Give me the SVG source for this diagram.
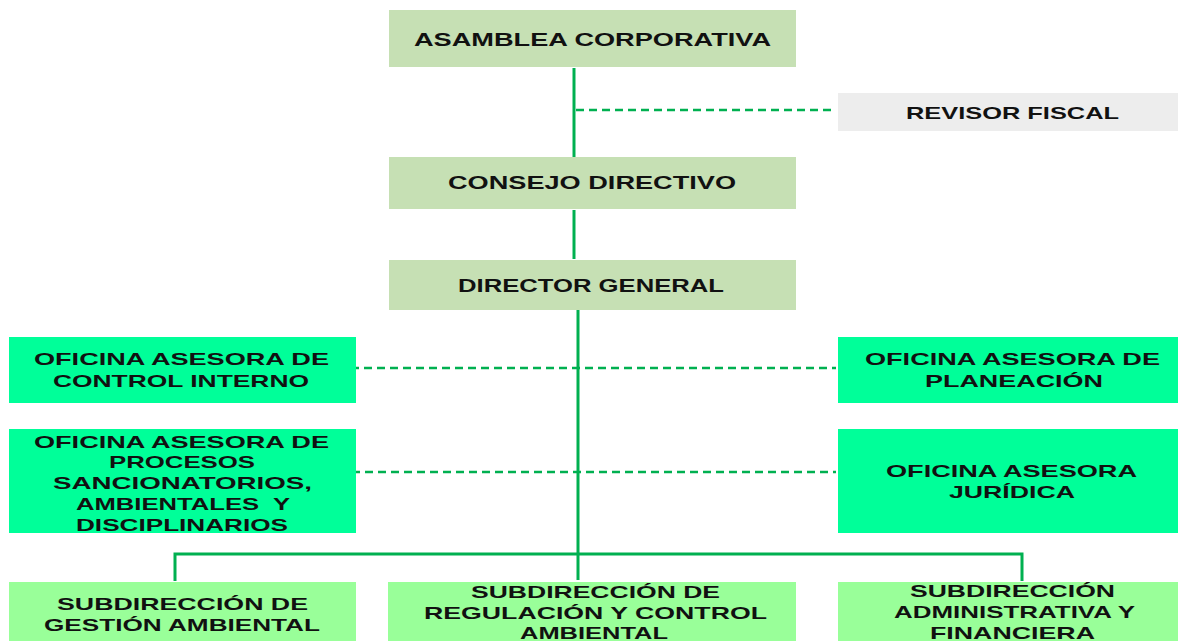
<svg xmlns="http://www.w3.org/2000/svg" width="1178" height="641" viewBox="0 0 1178 641">
<style>
.t{font-family:"Liberation Sans",Arial,sans-serif;font-weight:bold;fill:#111;}
.f18{font-size:18px;}
.f17{font-size:17px;}
.top{fill:#C6E0B4;}
.rev{fill:#EDEDED;}
.ofi{fill:#00FF99;}
.sub{fill:#99FF99;}
.solid{stroke:#00B050;stroke-width:3;fill:none;}
.dash{stroke:#00B050;stroke-width:2.5;stroke-dasharray:8 5;fill:none;}
</style>
<rect width="1178" height="641" fill="#FFFFFF"/>
<g id="connectors">
<line class="solid" x1="574" y1="68" x2="574" y2="157"/>
<line class="dash" x1="576" y1="110" x2="836" y2="110"/>
<line class="solid" x1="574" y1="210" x2="574" y2="259"/>
<line class="solid" x1="578" y1="310" x2="578" y2="580"/>
<line class="dash" x1="351" y1="368" x2="836" y2="368"/>
<line class="dash" x1="352" y1="472" x2="836" y2="472"/>
<polyline class="solid" points="175,581 175,554 1022,554 1022,581"/>
</g>
<g id="asamblea">
<rect class="top" x="389" y="10" width="407" height="57"/>
<text class="t f18" x="414" y="46" textLength="357" lengthAdjust="spacingAndGlyphs">ASAMBLEA CORPORATIVA</text>
</g>
<g id="revisor">
<rect class="rev" x="838" y="93" width="340" height="38"/>
<text class="t f17" x="906" y="119" textLength="213" lengthAdjust="spacingAndGlyphs">REVISOR FISCAL</text>
</g>
<g id="consejo">
<rect class="top" x="389" y="157" width="407" height="52"/>
<text class="t f18" x="448" y="189" textLength="288" lengthAdjust="spacingAndGlyphs">CONSEJO DIRECTIVO</text>
</g>
<g id="director">
<rect class="top" x="389" y="260" width="407" height="50"/>
<text class="t f18" x="458" y="292" textLength="266" lengthAdjust="spacingAndGlyphs">DIRECTOR GENERAL</text>
</g>
<g id="control-interno">
<rect class="ofi" x="9" y="337" width="347" height="66"/>
<text class="t f17" x="34" y="365" textLength="295" lengthAdjust="spacingAndGlyphs">OFICINA ASESORA DE</text>
<text class="t f17" x="53" y="387" textLength="256" lengthAdjust="spacingAndGlyphs">CONTROL INTERNO</text>
</g>
<g id="planeacion">
<rect class="ofi" x="838" y="337" width="340" height="66"/>
<text class="t f17" x="865" y="365" textLength="295" lengthAdjust="spacingAndGlyphs">OFICINA ASESORA DE</text>
<text class="t f17" x="925" y="387" textLength="178" lengthAdjust="spacingAndGlyphs">PLANEACIÓN</text>
</g>
<g id="procesos">
<rect class="ofi" x="9" y="429" width="347" height="104"/>
<text class="t f17" x="34" y="448" textLength="295" lengthAdjust="spacingAndGlyphs">OFICINA ASESORA DE</text>
<text class="t f17" x="109" y="468" textLength="146" lengthAdjust="spacingAndGlyphs">PROCESOS</text>
<text class="t f17" x="53" y="489" textLength="259" lengthAdjust="spacingAndGlyphs">SANCIONATORIOS,</text>
<text class="t f17" x="76" y="510" textLength="214" lengthAdjust="spacingAndGlyphs" xml:space="preserve">AMBIENTALES  Y</text>
<text class="t f17" x="76" y="531" textLength="212" lengthAdjust="spacingAndGlyphs">DISCIPLINARIOS</text>
</g>
<g id="juridica">
<rect class="ofi" x="838" y="429" width="340" height="104"/>
<text class="t f17" x="886" y="477" textLength="251" lengthAdjust="spacingAndGlyphs">OFICINA ASESORA</text>
<text class="t f17" x="949" y="498" textLength="126" lengthAdjust="spacingAndGlyphs">JURÍDICA</text>
</g>
<g id="gestion">
<rect class="sub" x="9" y="582" width="347" height="59"/>
<text class="t f17" x="57" y="610" textLength="251" lengthAdjust="spacingAndGlyphs">SUBDIRECCIÓN DE</text>
<text class="t f17" x="44" y="631" textLength="276" lengthAdjust="spacingAndGlyphs">GESTIÓN AMBIENTAL</text>
</g>
<g id="regulacion">
<rect class="sub" x="388" y="582" width="408" height="59"/>
<text class="t f17" x="471" y="598" textLength="249" lengthAdjust="spacingAndGlyphs">SUBDIRECCIÓN DE</text>
<text class="t f17" x="424" y="619" textLength="343" lengthAdjust="spacingAndGlyphs">REGULACIÓN Y CONTROL</text>
<text class="t f17" x="520" y="639" textLength="148" lengthAdjust="spacingAndGlyphs">AMBIENTAL</text>
</g>
<g id="administrativa">
<rect class="sub" x="838" y="582" width="340" height="59"/>
<text class="t f17" x="910" y="597" textLength="205" lengthAdjust="spacingAndGlyphs">SUBDIRECCIÓN</text>
<text class="t f17" x="894" y="618" textLength="241" lengthAdjust="spacingAndGlyphs">ADMINISTRATIVA Y</text>
<text class="t f17" x="930" y="639" textLength="165" lengthAdjust="spacingAndGlyphs">FINANCIERA</text>
</g>
</svg>
